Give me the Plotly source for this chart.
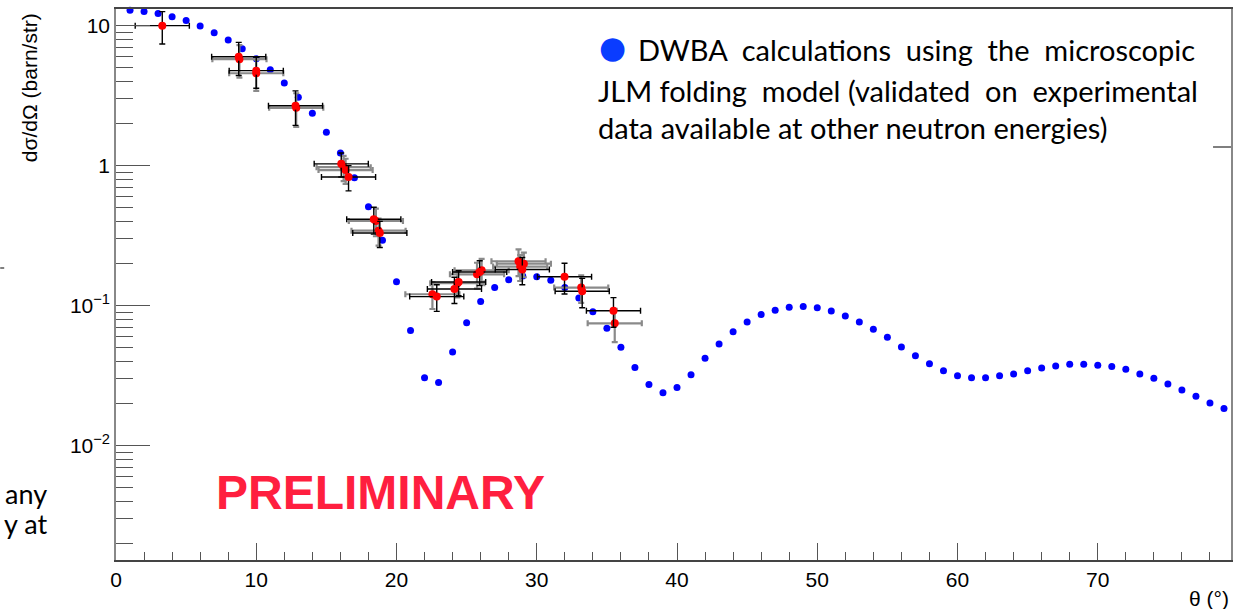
import plotly.graph_objects as go

# DWBA calculation (JLM folding model)
theta_calc = list(range(0, 80))
xs_calc = [13.2, 12.9, 12.6, 12.2, 11.6, 10.9, 9.95, 8.91, 7.90, 6.85,
           5.81, 4.85, 3.90, 3.08, 2.37, 1.73, 1.23, 0.821, 0.509,
           0.293, 0.148, 0.0663, 0.0305, 0.0282, 0.0467, 0.0756, 0.107, 0.1345, 0.153,
           0.163, 0.161, 0.152, 0.1345, 0.1135, 0.0906, 0.069, 0.0505, 0.0361, 0.0273,
           0.0239, 0.0260, 0.0321, 0.0421, 0.0533, 0.0652, 0.0765, 0.0863, 0.0927, 0.0975,
           0.0985, 0.0964, 0.0917, 0.0844, 0.0765, 0.0678, 0.0594, 0.0507, 0.0439, 0.0385,
           0.0342, 0.0315, 0.0305, 0.0305, 0.0315, 0.0325, 0.0343, 0.0359, 0.0371, 0.0381,
           0.0381, 0.0375, 0.0367, 0.0351, 0.0325, 0.0303, 0.0276, 0.0250, 0.0225, 0.0202, 0.0184]

# Experimental data, set 1 (black error bars)
theta_exp1 = [3.3, 8.75, 10.0, 12.8, 16.06, 16.58, 18.38, 18.81, 22.87, 24.13, 24.43,
              25.93, 28.97, 31.98, 33.24, 35.47]
xs_exp1 = [10.0, 6.0, 4.77, 2.68, 1.03, 0.83, 0.414, 0.330, 0.116, 0.1316, 0.1477,
           0.174, 0.181, 0.161, 0.1267, 0.092]
dxs_exp1 = [2.6, 1.6, 1.2, 0.74, 0.2, 0.17, 0.09, 0.07, 0.025, 0.028, 0.03,
            0.035, 0.04, 0.04, 0.03, 0.022]
dtheta_exp1 = [1.93] * 16

# Experimental data, set 2 (grey error bars)
theta_exp2 = [8.8, 10.0, 12.85, 16.23, 16.37, 18.53, 18.72, 22.56, 24.34, 25.74, 26.07,
              28.70, 29.08, 28.82, 33.17, 35.56]
xs_exp2 = [5.76, 4.57, 2.59, 0.975, 0.93, 0.403, 0.343, 0.1206, 0.1445, 0.1675, 0.179,
           0.2075, 0.1995, 0.19, 0.1345, 0.0748]
dxs_exp2 = [1.5, 1.15, 0.7, 0.2, 0.19, 0.09, 0.075, 0.026, 0.03, 0.035, 0.037,
            0.045, 0.04, 0.04, 0.03, 0.02]
dtheta_exp2 = [1.93] * 16

y_tickvals = [0.01, 0.1, 1, 10]
y_ticktext = ["10<sup>\u22122</sup>", "10<sup>\u22121</sup>", "1", "10"]

fig = go.Figure()
fig.add_trace(go.Scatter(x=theta_calc, y=xs_calc, mode="markers",
                         marker=dict(color="#0000ff", size=7), cliponaxis=False,
                         showlegend=False))
fig.add_trace(go.Scatter(x=theta_exp2, y=xs_exp2, mode="markers",
                         marker=dict(color="#ff0000", size=8),
                         error_x=dict(type="data", array=dtheta_exp2, color="#8a8a8a", thickness=2.2, width=3),
                         error_y=dict(type="data", array=dxs_exp2, color="#8a8a8a", thickness=2.2, width=3),
                         showlegend=False))
fig.add_trace(go.Scatter(x=theta_exp1, y=xs_exp1, mode="markers",
                         marker=dict(color="#ff0000", size=8),
                         error_x=dict(type="data", array=dtheta_exp1, color="#000000", thickness=1.4, width=3),
                         error_y=dict(type="data", array=dxs_exp1, color="#000000", thickness=1.4, width=3),
                         showlegend=False))

axfont = dict(family="Liberation Sans, Arial, sans-serif", size=21, color="#000000")

fig.update_layout(
    width=1234, height=609,
    margin=dict(l=116, r=1, t=9, b=49),
    paper_bgcolor="white", plot_bgcolor="white",
    showlegend=False,
    xaxis=dict(range=[0, 79.5], showgrid=False, zeroline=False,
               showline=True, linecolor="#444444", linewidth=1.5, mirror=True,
               ticks="inside", ticklen=17, tickcolor="#555555", tickwidth=1,
               dtick=10, tick0=0, tickfont=axfont,
               minor=dict(ticks="inside", ticklen=8, dtick=2, tickcolor="#555555", showgrid=False)),
    yaxis=dict(type="log", range=[-2.817, 1.119], showgrid=False, zeroline=False,
               showline=True, linecolor="#888888", linewidth=1.5, mirror=True,
               ticks="inside", ticklen=34, tickcolor="#555555", tickwidth=1,
               tickvals=y_tickvals, ticktext=y_ticktext, tickfont=axfont,
               minor=dict(ticks="inside", ticklen=17, dtick="D1", tickcolor="#555555", showgrid=False)),
)

def px_x(p):
    return (p - 116) / 1117.0

def px_y(p):
    return (560 - p) / 551.0

annots = []
# axis titles
annots.append(dict(text="d\u03c3/d\u03a9 (barn/str)", x=px_x(30), y=px_y(88), xref="paper", yref="paper",
                   textangle=-90, showarrow=False, xanchor="center", yanchor="middle",
                   font=dict(family="Liberation Sans, Arial, sans-serif", size=21, color="#000")))
annots.append(dict(text="\u03b8 (\u00b0)", x=1.0, y=px_y(598), xref="paper", yref="paper",
                   showarrow=False, xanchor="right", yanchor="middle",
                   font=dict(family="Liberation Sans, Arial, sans-serif", size=21, color="#000")))
# PRELIMINARY
annots.append(dict(text="<b>PRELIMINARY</b>", x=px_x(381), y=px_y(492), xref="paper", yref="paper",
                   showarrow=False, xanchor="center", yanchor="middle",
                   font=dict(family="Liberation Sans, Arial, sans-serif", size=48, color="#ff1f3f")))
# legend-like text box
legfont = dict(family="Lato, Carlito, sans-serif", size=29, color="#000")
nb = "\u00a0"
annots.append(dict(text="\u25cf", x=px_x(613), y=px_y(47), xref="paper", yref="paper",
                   showarrow=False, xanchor="center", yanchor="middle",
                   font=dict(family="DejaVu Sans", size=31, color="#0a3cff")))
annots.append(dict(text=("DWBA" + nb*2 + "calculations" + nb*2 + "using" + nb*2 + "the" + nb*2 + "microscopic"),
                   x=px_x(637), y=px_y(49), xref="paper", yref="paper",
                   showarrow=False, xanchor="left", yanchor="middle", font=legfont))
annots.append(dict(text=("JLM" + nb + "folding" + nb*2 + "model" + nb + "(validated" + nb*2 + "on" + nb*2 + "experimental"),
                   x=px_x(597), y=px_y(90), xref="paper", yref="paper",
                   showarrow=False, xanchor="left", yanchor="middle", font=legfont))
annots.append(dict(text="data available at other neutron energies)",
                   x=px_x(597), y=px_y(127), xref="paper", yref="paper",
                   showarrow=False, xanchor="left", yanchor="middle", font=legfont))
# cut-off slide text at the left edge
annots.append(dict(text="any", x=px_x(49), y=px_y(493), xref="paper", yref="paper",
                   showarrow=False, xanchor="right", yanchor="middle",
                   font=dict(family="Lato, Carlito, sans-serif", size=27, color="#000")))
annots.append(dict(text="y at", x=px_x(49), y=px_y(523), xref="paper", yref="paper",
                   showarrow=False, xanchor="right", yanchor="middle",
                   font=dict(family="Lato, Carlito, sans-serif", size=27, color="#000")))
fig.update_layout(annotations=annots)

# small stray dashes of the slide at the edges
fig.add_shape(type="line", xref="paper", yref="paper", x0=px_x(0), x1=px_x(4), y0=px_y(268), y1=px_y(268),
              line=dict(color="#555555", width=1.5))
fig.add_shape(type="line", xref="paper", yref="paper", x0=px_x(1215), x1=px_x(1233), y0=px_y(147), y1=px_y(147),
              line=dict(color="#555555", width=1.5))

fig.write_html("out.html")
